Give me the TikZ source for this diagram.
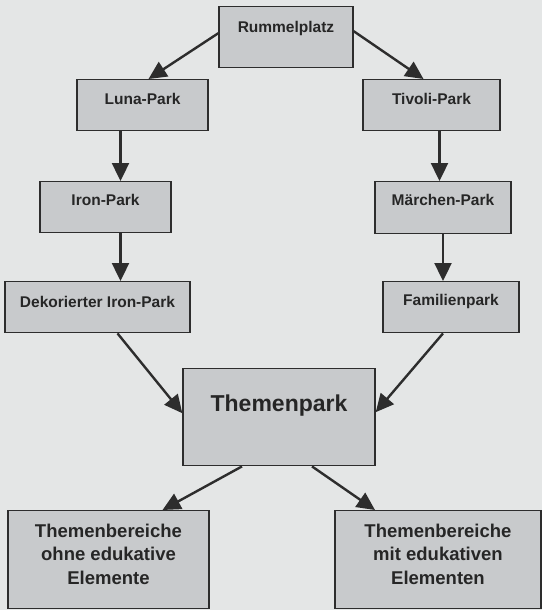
\documentclass[tikz,border=0pt]{standalone}
\usepackage{fontspec}
\setmainfont{Liberation Sans}
\usepackage{tikz}
\usetikzlibrary{arrows.meta}
\definecolor{bggray}{RGB}{228,230,230}
\definecolor{boxgray}{RGB}{200,202,204}
\definecolor{darkline}{RGB}{45,45,45}
\tikzset{>={Triangle[length=18pt,width=17pt]}}
\tikzset{%
    park/.style={%
        draw=darkline, line width=1.4pt, fill=boxgray, anchor=north,
        inner xsep=0pt, inner ysep=0pt, text=black!85,
        font=\fontsize{15.5}{18}\selectfont\bfseries
    },
    flow/.style={->, draw=darkline, line width=2.4pt}
}

\begin{document}
\begin{tikzpicture}[x=1pt,y=-1pt]
\fill[bggray] (0,0) rectangle (542,610);
\useasboundingbox (0,0) rectangle (542,610);

\node[park, minimum width=134pt, text height=25.5pt, text depth=35.5pt] (rummel) at (286,6) {Rummelplatz};
\node[park, minimum width=131pt, text height=24.5pt, text depth=26.5pt] (luna) at (142.5,79) {Luna-Park};
\node[park, minimum width=137pt, text height=24.5pt, text depth=26.5pt] (tivoli) at (431.5,79) {Tivoli-Park};
\node[park, minimum width=131pt, text height=23.5pt, text depth=27.5pt] (iron) at (105.5,181) {Iron-Park};
\node[park, minimum width=136pt, text height=23.5pt, text depth=28.5pt] (maerchen) at (443,181) {Märchen-Park};
\node[park, minimum width=185pt, text height=26pt, text depth=25pt] (deko) at (97.5,281) {Dekorierter Iron-Park};
\node[park, minimum width=136pt, text height=23.5pt, text depth=27.5pt] (familie) at (451,281) {Familienpark};
\node[park, minimum width=192pt, text height=43pt, text depth=54pt, font=\fontsize{23}{27}\selectfont\bfseries] (themen) at (279,368) {Themenpark};
\node[park, minimum width=201pt, text height=73.6pt, text depth=24.4pt, align=center, font=\fontsize{18.5}{23.5}\selectfont\bfseries] (ohne) at (108.5,510) {Themenbereiche\\ohne edukative\\Elemente};
\node[park, minimum width=206pt, text height=73.6pt, text depth=24.4pt, align=center, font=\fontsize{18.5}{23.5}\selectfont\bfseries] (mit) at (438,510) {Themenbereiche\\mit edukativen\\Elementen};

\draw[flow] ([yshift=4pt]rummel.west) -- ([xshift=6pt]luna.north);
\draw[flow] ([yshift=6pt]rummel.east) -- ([xshift=-8pt]tivoli.north);
\draw[flow] ([xshift=-22pt]luna.south) -- ([xshift=-22pt]luna.south |- iron.north);
\draw[flow] ([xshift=8pt]tivoli.south) -- ([xshift=8pt]tivoli.south |- maerchen.north);
\draw[flow] ([xshift=15pt]iron.south) -- ([xshift=15pt]iron.south |- deko.north);
\draw[flow] (maerchen.south) -- (maerchen.south |- familie.north);
\draw[flow] ([xshift=20pt]deko.south) -- ([yshift=4pt]themen.west);
\draw[flow] ([xshift=-8pt]familie.south) -- ([yshift=5pt]themen.east);
\draw[flow] ([xshift=-37pt]themen.south) -- ([xshift=54pt]ohne.north);
\draw[flow] ([xshift=33pt]themen.south) -- ([xshift=-63pt]mit.north);
\end{tikzpicture}
\end{document}
